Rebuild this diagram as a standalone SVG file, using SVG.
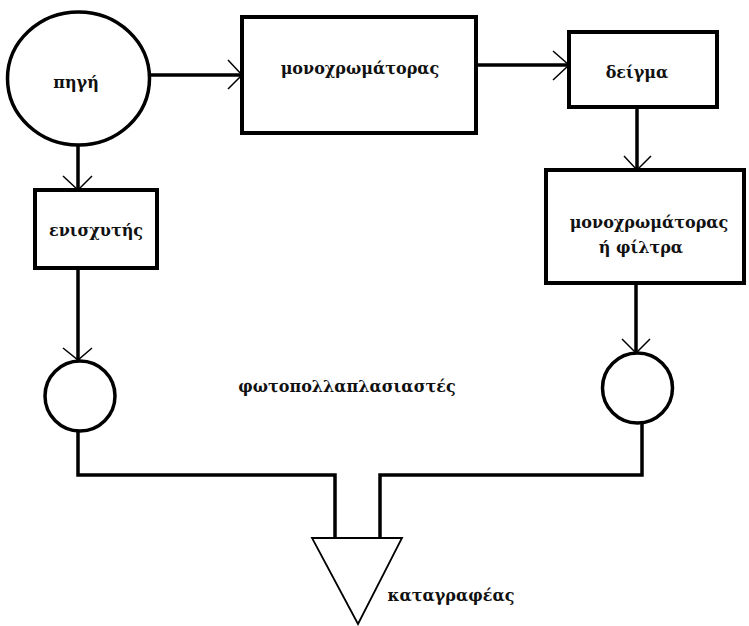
<svg xmlns="http://www.w3.org/2000/svg" width="749" height="626" viewBox="0 0 749 626">
<style>
.box{fill:#fff;stroke:#000;stroke-width:4}
.circ{fill:#fff;stroke:#000;stroke-width:3.5}
.wire{fill:none;stroke:#000;stroke-width:3.5}
.head{fill:none;stroke:#000;stroke-width:1.5}
.t{font-family:"DejaVu Serif","Liberation Serif",serif;font-weight:bold;font-size:16px;fill:#111;text-anchor:middle}
</style>
<rect width="749" height="626" fill="#fff"/>
<g id="connectors">
<line class="wire" x1="150" y1="75" x2="242" y2="75"/>
<polyline class="head" points="228,60 242,75 228,89"/>
<line class="wire" x1="78" y1="145" x2="78" y2="190"/>
<polyline class="head" points="63,176 78,190 92,176"/>
<line class="wire" x1="476" y1="65" x2="569" y2="65"/>
<polyline class="head" points="553,51 569,65 553,80"/>
<line class="wire" x1="637" y1="107" x2="637" y2="170"/>
<polyline class="head" points="624,156 637,170 651,156"/>
<line class="wire" x1="78" y1="268" x2="78" y2="360"/>
<polyline class="head" points="63,348 78,360 92,348"/>
<line class="wire" x1="636" y1="283" x2="636" y2="353"/>
<polyline class="head" points="622,339 636,353 650,339"/>
<polyline class="wire" points="78,432 78,475 335,475 335,538"/>
<polyline class="wire" points="642,423 642,475 380,475 380,538"/>
</g>
<g id="source">
<ellipse class="circ" cx="78.5" cy="78.5" rx="71" ry="66.5"/>
<text class="t" x="76" y="88">πηγή</text>
</g>
<g id="monochromator">
<rect class="box" x="242" y="17" width="234" height="116"/>
<text class="t" x="360" y="74">μονοχρωμάτορας</text>
</g>
<g id="sample">
<rect class="box" x="569" y="32" width="148" height="75"/>
<text class="t" x="637" y="78">δείγμα</text>
</g>
<g id="amplifier">
<rect class="box" x="35" y="190" width="122" height="78"/>
<text class="t" x="96" y="236">ενισχυτής</text>
</g>
<g id="monochromator2">
<rect class="box" x="546" y="170" width="198" height="113"/>
<text class="t" x="649" y="228">μονοχρωμάτορας</text>
<text class="t" x="641" y="253">ή φίλτρα</text>
</g>
<g id="pmt-left">
<circle class="circ" cx="80" cy="396" r="35"/>
</g>
<g id="pmt-right">
<circle class="circ" cx="637.5" cy="388" r="35"/>
</g>
<g id="pmt-label">
<text class="t" x="347" y="392">φωτοπολλαπλασιαστές</text>
</g>
<g id="recorder">
<polygon points="312,538 402,538 358,624" fill="#fff" stroke="#000" stroke-width="1.8"/>
<text class="t" x="451" y="601">καταγραφέας</text>
</g>
</svg>
